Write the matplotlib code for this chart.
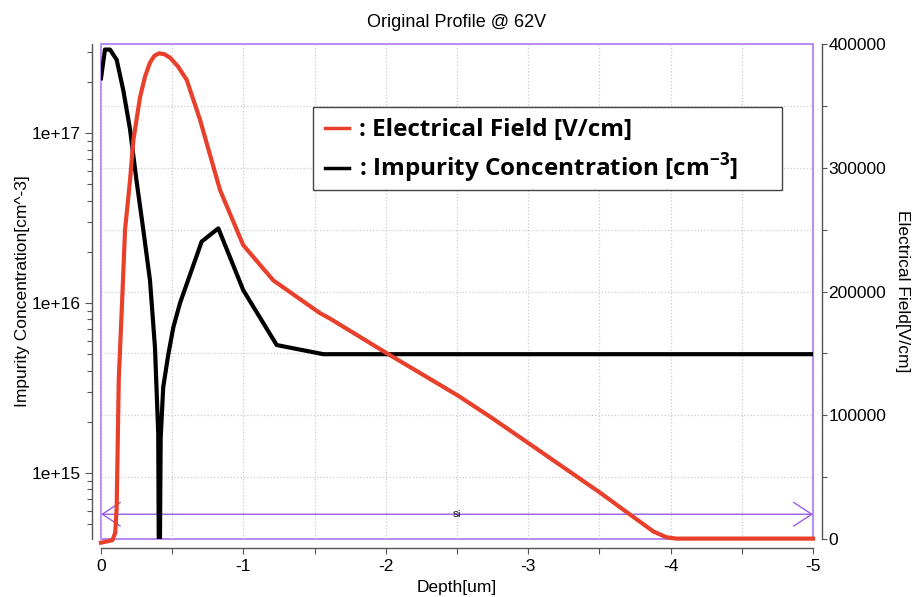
import matplotlib.pyplot as plt
import numpy as np
from matplotlib.patches import Rectangle
from matplotlib.lines import Line2D
from matplotlib.transforms import blended_transform_factory
from matplotlib.ticker import MultipleLocator, LogLocator, NullFormatter, FuncFormatter

plt.rcParams['font.family'] = ['Liberation Sans', 'DejaVu Sans']
plt.rcParams['axes.unicode_minus'] = False
plt.rcParams['mathtext.fontset'] = 'custom'
plt.rcParams['mathtext.bf'] = 'Open Sans:bold'
plt.rcParams['mathtext.rm'] = 'Open Sans'

# Impurity concentration [cm^-3] vs depth [um] (left, log axis)
depth_n = [0.0, 0.028, 0.063, 0.11, 0.157, 0.204, 0.25, 0.297, 0.344, 0.379,
           0.402, 0.409, 0.419, 0.437, 0.473, 0.508, 0.555, 0.707, 0.824,
           0.999, 1.234, 1.561, 5.0]
conc = [2.1e17, 3.1e17, 3.1e17, 2.7e17, 1.78e17, 1.05e17, 5.2e16, 2.7e16,
        1.36e16, 5.5e15, 1.7e15, 1e14, 1.6e15, 3.2e15, 5.0e15, 7.2e15, 1.0e16,
        2.3e16, 2.75e16, 1.19e16, 5.66e15, 5.0e15, 5.0e15]

# Electrical field [V/cm] vs depth [um] (right, linear axis)
depth_e = [0.0, 0.08, 0.1, 0.11, 0.125, 0.145, 0.169, 0.204, 0.227, 0.274,
           0.31, 0.344, 0.375, 0.407, 0.445, 0.485, 0.54, 0.602, 0.695, 0.836,
           0.953, 0.998, 1.21, 1.537, 1.61, 1.994, 2.505, 2.73, 3.0, 3.51, 3.7,
           3.88, 3.97, 4.04, 5.0]
efield = [-3000, -1000, 5000, 25000, 130000, 183000, 250000, 290000, 322000,
          357000, 374000, 385000, 390500, 392500, 391800, 389000, 382000,
          371000, 339000, 282000, 250000, 237600, 209000, 182600, 178000,
          151000, 116000, 99000, 77600, 37000, 21000, 6000, 1400, 300, 300]

x_ticks = [0, -1, -2, -3, -4, -5]
purple = '#b37ff2'
arrow_purple = '#9a5ce6'
spine_gray = '#555555'
grid_gray = '#cccccc'

fig = plt.figure(figsize=(9.14, 5.97), dpi=100)
ax = fig.add_axes([0.1105, 0.0972, 0.779, 0.829])
ax2 = ax.twinx()

# black: impurity concentration
ax.plot(-np.array(depth_n), conc, color='black', lw=3, zorder=3)
ax.set_yscale('log')
ax.set_ylim(4.09e14, 3.34e17)
ax.set_xlim(0, -5)
ax.set_xticks(x_ticks)
ax.set_xticklabels([str(t) for t in x_ticks])
ax.xaxis.set_minor_locator(MultipleLocator(0.5))
ax.yaxis.set_major_locator(LogLocator(base=10))
ax.yaxis.set_minor_locator(LogLocator(base=10, subs=range(2, 10)))
ax.yaxis.set_major_formatter(FuncFormatter(lambda v, p: '1e+%d' % round(np.log10(v))))
ax.yaxis.set_minor_formatter(NullFormatter())

# red: electrical field
ax2.plot(-np.array(depth_e), efield, color='#e8402b', lw=3, zorder=3, clip_on=False)
ax2.set_ylim(0, 400000)
ax2.yaxis.set_major_locator(MultipleLocator(100000))
ax2.yaxis.set_minor_locator(MultipleLocator(50000))

# grids (horizontal grid follows the right axis but sits under both curves)
ax.grid(which='both', axis='x', ls=':', color=grid_gray, lw=0.9)
hgrid = blended_transform_factory(ax.transAxes, ax2.transData)
for v in np.arange(50000, 400000, 50000):
    ax.plot([0, 1], [v, v], transform=hgrid, ls=':', color=grid_gray, lw=0.9, zorder=0.5)

# spines
for s in ['top', 'right']:
    ax.spines[s].set_visible(False)
for s in ['top', 'left', 'bottom']:
    ax2.spines[s].set_visible(False)
ax.spines['left'].set_position(('outward', 6.5))
ax.spines['bottom'].set_position(('outward', 6.5))
ax2.spines['right'].set_position(('outward', 6.5))
for sp in [ax.spines['left'], ax.spines['bottom'], ax2.spines['right']]:
    sp.set_color(spine_gray)
    sp.set_linewidth(1.0)

ax.tick_params(axis='y', which='major', length=5, width=0.8, color=spine_gray,
               labelsize=12.5, pad=3)
ax.tick_params(axis='y', which='minor', length=3.5, width=0.8, color=spine_gray)
ax.tick_params(axis='x', which='both', length=4.5, width=0.8, color=spine_gray,
               labelsize=12.5, pad=3.5)
ax2.tick_params(axis='y', which='major', length=3.5, width=0.8, color=spine_gray,
                labelsize=12.5, pad=1)
ax2.tick_params(axis='y', which='minor', length=3.5, width=0.8, color=spine_gray)

# purple material box and Si region arrow
ax.add_patch(Rectangle((0, 0), 1, 1, transform=ax.transAxes, fill=False,
                       ec=purple, lw=1.3, zorder=1.5, clip_on=False))
ax.annotate('', xy=(-5, 20000), xytext=(0, 20000), xycoords=ax2.transData,
            textcoords=ax2.transData, zorder=2,
            arrowprops=dict(arrowstyle='<->,head_length=1.3,head_width=0.85',
                            mutation_scale=10, color=arrow_purple, lw=1,
                            shrinkA=0, shrinkB=0))
ax.text(-2.5, 20000, 'Si', transform=ax2.transData, ha='center', va='center',
        fontsize=6.5, fontweight='bold', color='#333333', zorder=2)

# labels
ax.set_title('Original Profile @ 62V', fontsize=13, pad=12)
ax.set_ylabel('Impurity Concentration[cm^-3]', fontsize=12.5)
ax.yaxis.set_label_coords(-0.10, 0.5)
ax.set_xlabel('Depth[um]', fontsize=12.5, va='top')
ax.xaxis.set_label_coords(0.5, -0.083)
ax2.set_ylabel('Electrical Field[V/cm]', fontsize=12.5, rotation=270, va='bottom')
ax2.yaxis.set_label_coords(1.115, 0.5)

# legend box
ax2.add_patch(Rectangle((0.2978, 0.705), 0.6587, 0.1677, transform=ax2.transAxes,
                        fc='white', ec='#444444', lw=1.0, zorder=5))
handles = [Line2D([], [], color='#e8402b', lw=2.5),
           Line2D([], [], color='black', lw=2.5)]
labels = [': Electrical Field [V/cm]',
          r': Impurity Concentration [cm$^{\mathbf{-3}}$]']
leg = ax2.legend(handles, labels, loc='upper left', bbox_to_anchor=(0.314, 0.85),
                 frameon=False, handlelength=1.0, handletextpad=0.4,
                 labelspacing=0.38, borderpad=0, borderaxespad=0,
                 prop={'family': 'Open Sans', 'weight': 'bold', 'size': 17.5})
leg.set_zorder(6)

fig.savefig('out.png', dpi=100)
